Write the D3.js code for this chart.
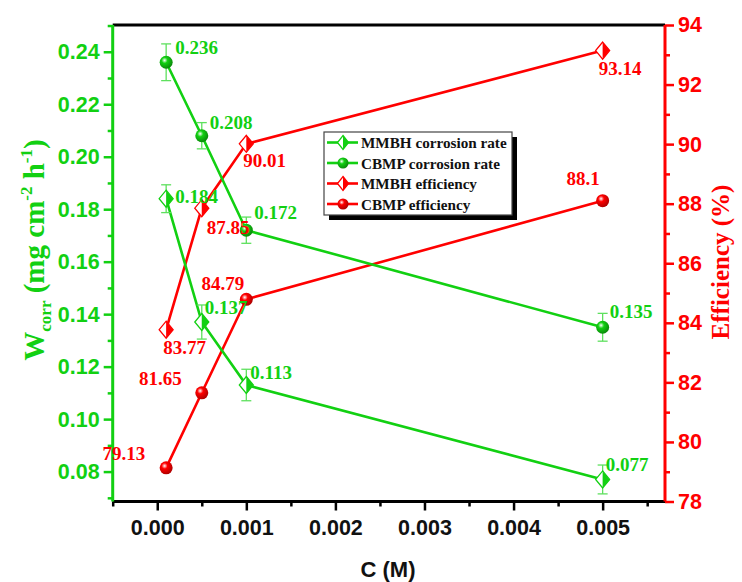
<!DOCTYPE html>
<html>
<head>
<meta charset="utf-8">
<script src="https://cdn.jsdelivr.net/npm/d3@7"></script>
<style>
  body { margin: 0; background: #fff; }
  svg { display: block; }
</style>
</head>
<body>
<svg id="chart" width="742" height="582"></svg>
<script>
// Inhibitor concentration (M)
const concentrations = [0.0001, 0.0005, 0.001, 0.005];

// Corrosion rate W_corr (mg cm^-2 h^-1) with error bars
const mmbhRate = [0.184, 0.137, 0.113, 0.077];
const mmbhRateErr = [0.0053, 0.0065, 0.006, 0.0055];
const cbmpRate = [0.236, 0.208, 0.172, 0.135];
const cbmpRateErr = [0.007, 0.005, 0.005, 0.0053];

// Inhibition efficiency (%)
const mmbhEff = [83.77, 87.85, 90.01, 93.14];
const cbmpEff = [79.13, 81.65, 84.79, 88.1];

// Tick values
const xTicks = [0, 0.001, 0.002, 0.003, 0.004, 0.005];
const xMinorTicks = [-0.0005, 0.0005, 0.0015, 0.0025, 0.0035, 0.0045, 0.0055];
const rateTicks = [0.08, 0.10, 0.12, 0.14, 0.16, 0.18, 0.20, 0.22, 0.24];
const rateMinorTicks = [0.07, 0.09, 0.11, 0.13, 0.15, 0.17, 0.19, 0.21, 0.23, 0.25];
const effTicks = [78, 80, 82, 84, 86, 88, 90, 92, 94];
const effMinorTicks = [79, 81, 83, 85, 87, 89, 91, 93];

const legendNames = ["MMBH corrosion rate", "CBMP corrosion rate", "MMBH efficiency", "CBMP efficiency"];

const GREEN = "#12d012";
const GREEN_LIGHT = "#5ee05e";
const RED = "#ff0000";

const svg = d3.select("#chart");
const plot = { left: 112.7, right: 665, top: 25, bottom: 501.5 };

const x = d3.scaleLinear().domain([-0.0005, 0.0057]).range([plot.left, plot.right]);
const yRate = d3.scaleLinear().domain([0.0686, 0.2502]).range([plot.bottom, plot.top]);
const yEff = d3.scaleLinear().domain([78, 94]).range([plot.bottom, plot.top]);

// Gradients for the spherical markers
const defs = svg.append("defs");
function sphereGradient(id, color, dark) {
  const g = defs.append("radialGradient").attr("id", id)
    .attr("cx", "38%").attr("cy", "35%").attr("r", "65%");
  g.append("stop").attr("offset", "0%").attr("stop-color", "#ffffff");
  g.append("stop").attr("offset", "35%").attr("stop-color", color);
  g.append("stop").attr("offset", "100%").attr("stop-color", dark);
}
sphereGradient("sphGreen", GREEN, "#0a8a0a");
sphereGradient("sphRed", RED, "#b00000");

const tickFont = "'Liberation Sans', Arial, sans-serif";
const serif = "'Liberation Serif', 'Times New Roman', serif";

// ---- Axes ----
function styleAxis(g, color) {
  g.select(".domain").remove();
  g.selectAll(".tick line").attr("stroke", color).attr("stroke-width", 2.5);
  g.selectAll(".tick text").attr("fill", color)
    .style("font-family", tickFont).style("font-weight", "bold").style("font-size", "21.5px");
}

// bottom axis (black)
const gxMinor = svg.append("g").attr("transform", `translate(0,${plot.bottom})`)
  .call(d3.axisBottom(x).tickValues(xMinorTicks).tickSize(5).tickFormat(""));
styleAxis(gxMinor, "#000");
const gx = svg.append("g").attr("transform", `translate(0,${plot.bottom})`)
  .call(d3.axisBottom(x).tickValues(xTicks).tickSize(9).tickPadding(9).tickFormat(d3.format(".3f")));
styleAxis(gx, "#000");
gx.selectAll(".tick text").attr("fill", "#111");

// left axis (green)
const gyMinor = svg.append("g").attr("transform", `translate(${plot.left},0)`)
  .call(d3.axisLeft(yRate).tickValues(rateMinorTicks).tickSize(5).tickFormat(""));
styleAxis(gyMinor, GREEN);
const gy = svg.append("g").attr("transform", `translate(${plot.left},0)`)
  .call(d3.axisLeft(yRate).tickValues(rateTicks).tickSize(9).tickPadding(4).tickFormat(d3.format(".2f")));
styleAxis(gy, GREEN);

// right axis (red)
const grMinor = svg.append("g").attr("transform", `translate(${plot.right},0)`)
  .call(d3.axisRight(yEff).tickValues(effMinorTicks).tickSize(5).tickFormat(""));
styleAxis(grMinor, RED);
const gr = svg.append("g").attr("transform", `translate(${plot.right},0)`)
  .call(d3.axisRight(yEff).tickValues(effTicks).tickSize(9).tickPadding(4).tickFormat(d3.format("d")));
styleAxis(gr, RED);

// frame lines
svg.append("line").attr("x1", plot.left).attr("x2", plot.right).attr("y1", plot.top).attr("y2", plot.top)
  .attr("stroke", "#000").attr("stroke-width", 3);
svg.append("line").attr("x1", plot.left).attr("x2", plot.right).attr("y1", plot.bottom).attr("y2", plot.bottom)
  .attr("stroke", "#000").attr("stroke-width", 3);
svg.append("line").attr("x1", plot.left).attr("x2", plot.left).attr("y1", plot.top).attr("y2", plot.bottom)
  .attr("stroke", GREEN).attr("stroke-width", 3);
svg.append("line").attr("x1", plot.right).attr("x2", plot.right).attr("y1", plot.top).attr("y2", plot.bottom)
  .attr("stroke", RED).attr("stroke-width", 3);

// ---- Axis titles ----
svg.append("text")
  .attr("x", 388).attr("y", 577)
  .attr("text-anchor", "middle")
  .style("font-family", tickFont).style("font-weight", "bold").style("font-size", "22px")
  .attr("fill", "#111")
  .text("C (M)");

const leftTitle = svg.append("text")
  .attr("transform", "translate(44,250) rotate(-90)")
  .attr("text-anchor", "middle")
  .style("font-family", serif).style("font-weight", "bold").style("font-size", "29px")
  .attr("fill", GREEN);
leftTitle.append("tspan").text("W");
leftTitle.append("tspan").attr("dy", 7).style("font-size", "17px").text("corr");
leftTitle.append("tspan").attr("dy", -7).text(" (mg cm");
leftTitle.append("tspan").attr("dy", -12).style("font-size", "17px").text("-2");
leftTitle.append("tspan").attr("dy", 12).text(" h");
leftTitle.append("tspan").attr("dy", -12).style("font-size", "17px").text("-1");
leftTitle.append("tspan").attr("dy", 12).text(")");

svg.append("text")
  .attr("transform", "translate(729,262) rotate(-90)")
  .attr("text-anchor", "middle")
  .style("font-family", serif).style("font-weight", "bold").style("font-size", "25px")
  .attr("fill", RED)
  .text("Efficiency (%)");

// ---- Series ----
const lineGen = (yScale) => d3.line().x(d => x(d[0])).y(d => yScale(d[1]));

function zipped(values) { return concentrations.map((c, i) => [c, values[i]]); }

const series = [
  { values: mmbhEff, scale: yEff, color: RED, marker: "diamond" },
  { values: cbmpEff, scale: yEff, color: RED, marker: "sphere" },
  { values: mmbhRate, scale: yRate, color: GREEN, marker: "diamond", err: mmbhRateErr },
  { values: cbmpRate, scale: yRate, color: GREEN, marker: "sphere", err: cbmpRateErr }
];

function diamond(g, color, w, h) {
  g.append("path").attr("d", `M0,${-h}L${w},0L0,${h}L${-w},0Z`)
    .attr("fill", "#fff").attr("stroke", color).attr("stroke-width", 1.3);
  g.append("path").attr("d", `M0,${-h}L${w},0L0,${h}Z`).attr("fill", color);
}
function sphere(g, color, r) {
  g.append("circle").attr("r", r)
    .attr("fill", color === RED ? "url(#sphRed)" : "url(#sphGreen)");
}

series.forEach(s => {
  svg.append("path").datum(zipped(s.values))
    .attr("fill", "none").attr("stroke", s.color).attr("stroke-width", 2.6)
    .attr("d", lineGen(s.scale));
});

// error bars
series.filter(s => s.err).forEach(s => {
  s.values.forEach((v, i) => {
    const cx = x(concentrations[i]);
    const y1 = s.scale(v + s.err[i]), y2 = s.scale(v - s.err[i]);
    const g = svg.append("g").attr("stroke", GREEN_LIGHT).attr("stroke-width", 1.3);
    g.append("line").attr("x1", cx).attr("x2", cx).attr("y1", y1).attr("y2", y2);
    g.append("line").attr("x1", cx - 5).attr("x2", cx + 5).attr("y1", y1).attr("y2", y1);
    g.append("line").attr("x1", cx - 5).attr("x2", cx + 5).attr("y1", y2).attr("y2", y2);
  });
});

// markers
series.forEach(s => {
  s.values.forEach((v, i) => {
    const g = svg.append("g").attr("transform", `translate(${x(concentrations[i])},${s.scale(v)})`);
    if (s.marker === "diamond") diamond(g, s.color, 7, 8.5);
    else sphere(g, s.color, 6.5);
  });
});

// ---- Value labels ----
const labelStyle = (sel, color) => sel
  .style("font-family", serif).style("font-weight", "bold").style("font-size", "19px")
  .attr("fill", color);

// offsets (dx, dy, anchor) for each point's label
const cbmpRateLabelPos = [[9, -8, "start"], [8, -7, "start"], [8, -11, "start"], [7, -9, "start"]];
const mmbhRateLabelPos = [[9, 4, "start"], [3, -8, "start"], [4, -6, "start"], [3, -8, "start"]];
const mmbhEffLabelPos = [[-3, 24, "start"], [5, 26, "start"], [-3, 23, "start"], [-4, 24, "start"]];
const cbmpEffLabelPos = [[-21, -8, "end"], [-20, -8, "end"], [-2, -9, "end"], [-3, -16, "end"]];

function labels(values, scale, pos, color, fmt) {
  values.forEach((v, i) => {
    const [dx, dy, anchor] = pos[i];
    svg.append("text")
      .attr("x", x(concentrations[i]) + dx).attr("y", scale(v) + dy)
      .attr("text-anchor", anchor)
      .call(labelStyle, color)
      .text(fmt(v));
  });
}
labels(cbmpRate, yRate, cbmpRateLabelPos, GREEN, d => d3.format(".3f")(d));
labels(mmbhRate, yRate, mmbhRateLabelPos, GREEN, d => d3.format(".3f")(d));
labels(mmbhEff, yEff, mmbhEffLabelPos, RED, d => String(d));
labels(cbmpEff, yEff, cbmpEffLabelPos, RED, d => String(d));

// ---- Legend ----
const legend = svg.append("g").attr("transform", "translate(324,132)");
legend.append("rect").attr("x", 5).attr("y", 5).attr("width", 188).attr("height", 83).attr("fill", "#000");
legend.append("rect").attr("x", 0).attr("y", 0).attr("width", 188).attr("height", 83)
  .attr("fill", "#fff").attr("stroke", "#444").attr("stroke-width", 1.2);
const legendSeries = [series[2], series[3], series[0], series[1]];
legendNames.forEach((name, i) => {
  const s = legendSeries[i];
  const cy = 10.5 + i * 20.5;
  const row = legend.append("g").attr("transform", `translate(0,${cy})`);
  row.append("line").attr("x1", 3).attr("x2", 34).attr("stroke", s.color).attr("stroke-width", 2.6);
  const m = row.append("g").attr("transform", "translate(19,0)");
  if (s.marker === "diamond") diamond(m, s.color, 5.5, 7);
  else sphere(m, s.color, 5.5);
  row.append("text").attr("x", 37).attr("y", 5.5)
    .style("font-family", serif).style("font-weight", "bold").style("font-size", "15.2px")
    .attr("fill", "#111").text(name);
});
</script>
</body>
</html>
